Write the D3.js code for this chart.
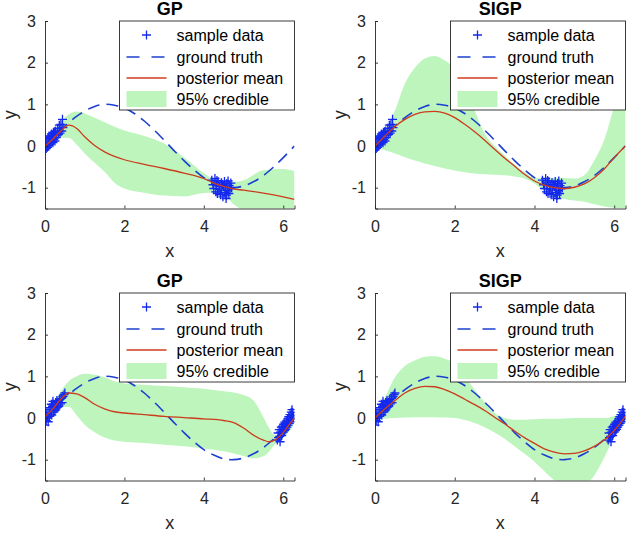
<!DOCTYPE html>
<html><head><meta charset="utf-8">
<script src="https://cdn.jsdelivr.net/npm/d3@7"></script>
<style>body{margin:0;background:#fff}svg{display:block;font-family:"Liberation Sans",Arial,Helvetica,sans-serif}</style>
</head><body><svg id="c" width="640" height="533"></svg>
<script>
// ---------- data ----------
const titles = ["GP","SIGP","GP","SIGP"];
const legendLabels = ["sample data","ground truth","posterior mean","95% credible"];
const xTicks = [0,2,4,6];
const yTicks = [-1,0,1,2,3];

// ground truth
const truthX = [0,0.25,0.5,0.75,1,1.25,1.5,1.75,2,2.25,2.5,2.75,3,3.25,3.5,3.75,4,4.25,4.5,4.75,5,5.25,5.5,5.75,6,6.28];
const truthY = [0,0.25,0.48,0.68,0.84,0.95,1.00,0.98,0.91,0.78,0.60,0.38,0.14,-0.11,-0.35,-0.57,-0.76,-0.89,-0.98,-1.00,-0.96,-0.86,-0.71,-0.51,-0.28,0.00];

// sample data, top row
const sampleTopX = [0.00,0.02,0.03,0.05,0.06,0.08,0.09,0.10,0.12,0.13,0.14,0.16,0.17,0.18,0.20,0.21,0.22,0.24,0.25,0.27,0.28,0.30,0.32,0.34,0.36,0.38,0.40,0.42,0.44,0.45,
  4.20,4.23,4.25,4.28,4.30,4.32,4.34,4.36,4.38,4.40,4.42,4.44,4.45,4.47,4.48,4.50,4.52,4.53,4.55,4.56,4.58,4.60,4.61,4.63,4.64,4.66,4.68,4.70,4.33,4.57];
const sampleTopY = [-0.10,0.08,-0.06,0.14,-0.03,0.18,0.01,0.24,0.04,0.21,0.07,0.29,0.10,0.26,0.08,0.32,0.16,0.34,0.12,0.36,0.20,0.26,0.42,0.28,0.50,0.31,0.52,0.36,0.64,0.44,
  -0.82,-0.93,-1.02,-0.78,-1.10,-0.95,-1.14,-0.86,-1.03,-0.97,-1.17,-0.88,-1.06,-0.92,-1.22,-0.98,-0.85,-1.12,-1.00,-1.26,-0.90,-1.07,-0.84,-1.14,-0.95,-1.03,-0.89,-1.00,-0.83,-1.18];
// sample data, bottom row
const sampleBotX = [0.00,0.02,0.03,0.05,0.06,0.08,0.10,0.11,0.13,0.14,0.16,0.17,0.19,0.20,0.22,0.23,0.25,0.27,0.28,0.30,0.32,0.33,0.35,0.37,0.39,0.41,0.43,0.45,0.48,0.50,
  5.85,5.87,5.88,5.90,5.91,5.93,5.95,5.96,5.98,6.00,6.01,6.03,6.04,6.06,6.08,6.09,6.11,6.12,6.14,6.15,6.17,6.18,6.20,6.21,6.22,6.23,6.24,6.25,5.92,6.05];
const sampleBotY = [-0.17,0.10,-0.06,0.14,0.01,-0.09,0.20,0.04,0.25,0.09,0.33,0.07,0.27,0.40,0.14,0.30,0.18,0.37,0.22,0.42,0.26,0.38,0.29,0.45,0.34,0.47,0.37,0.52,0.56,0.60,
  -0.53,-0.36,-0.47,-0.28,-0.44,-0.34,-0.22,-0.42,-0.20,-0.34,-0.15,-0.30,-0.10,-0.27,-0.07,-0.22,-0.02,-0.17,0.03,-0.13,0.08,-0.09,0.14,-0.03,0.20,0.06,0.13,0.02,-0.57,-0.17];

// panel 1: GP (top)
const gp1X     = [0,0.2,0.4,0.6,0.8,1.0,1.25,1.5,1.75,2.0,2.5,3.0,3.5,4.0,4.25,4.5,4.75,5.0,5.5,6.0,6.28];
const gp1Mean  = [0.0,0.17,0.36,0.50,0.42,0.22,0.01,-0.14,-0.25,-0.33,-0.44,-0.54,-0.65,-0.78,-0.89,-0.97,-1.03,-1.06,-1.13,-1.22,-1.28];
const gp1Upper = [0.05,0.30,0.58,0.76,0.83,0.78,0.68,0.57,0.46,0.37,0.24,0.06,-0.27,-0.65,-0.80,-0.84,-0.86,-0.82,-0.58,-0.55,-0.60];
const gp1Lower = [-0.05,0.05,0.20,0.20,0.03,-0.18,-0.40,-0.62,-0.88,-1.02,-1.12,-1.19,-1.21,-1.13,-1.12,-1.17,-1.40,-1.55,-1.75,-1.90,-2.00];
// panel 2: SIGP (top)
const sigp1X     = [0,0.25,0.5,0.75,1.0,1.25,1.5,1.75,2.0,2.25,2.5,2.75,3.0,3.25,3.5,3.75,4.0,4.25,4.5,4.75,5.0,5.25,5.5,5.75,6.0,6.28];
const sigp1Mean  = [0.0,0.24,0.47,0.64,0.76,0.82,0.83,0.79,0.68,0.52,0.34,0.14,-0.08,-0.29,-0.48,-0.68,-0.84,-0.94,-1.00,-1.02,-0.99,-0.91,-0.76,-0.55,-0.28,0.0];
const sigp1Upper = [0.05,0.35,0.85,1.50,1.88,2.10,2.16,2.05,1.85,1.45,0.85,0.30,0.0,-0.22,-0.45,-0.63,-0.77,-0.78,-0.76,-0.77,-0.78,-0.70,-0.35,0.15,0.95,1.70];
const sigp1Lower = [-0.05,-0.10,-0.18,-0.27,-0.35,-0.42,-0.48,-0.54,-0.59,-0.63,-0.66,-0.68,-0.69,-0.70,-0.73,-0.78,-0.90,-1.10,-1.22,-1.27,-1.31,-1.34,-1.40,-1.45,-1.48,-1.50];
// panel 3: GP (bottom)
const gp2X     = [0,0.2,0.4,0.6,0.8,1.0,1.25,1.5,1.75,2.0,2.5,3.0,3.5,4.0,4.5,4.75,5.0,5.25,5.5,5.65,5.8,6.0,6.15,6.28];
const gp2Mean  = [0.03,0.22,0.45,0.60,0.58,0.49,0.33,0.22,0.15,0.12,0.08,0.04,0.01,-0.02,-0.06,-0.11,-0.24,-0.41,-0.53,-0.57,-0.52,-0.35,-0.16,0.0];
const gp2Upper = [0.10,0.35,0.65,0.88,1.00,1.06,1.04,0.98,0.88,0.83,0.80,0.77,0.74,0.70,0.64,0.61,0.55,0.42,0.02,-0.25,-0.42,-0.26,-0.05,0.10];
const gp2Lower = [-0.10,0.05,0.25,0.27,0.06,-0.16,-0.34,-0.47,-0.54,-0.57,-0.60,-0.64,-0.68,-0.73,-0.80,-0.85,-0.91,-0.97,-0.92,-0.80,-0.62,-0.48,-0.32,-0.12];
// panel 4: SIGP (bottom)
const sigp2X     = [0,0.25,0.5,0.75,1.0,1.25,1.5,1.75,2.0,2.25,2.5,2.75,3.0,3.25,3.5,3.75,4.0,4.25,4.5,4.75,5.0,5.25,5.5,5.75,6.0,6.28];
const sigp2Mean  = [0.0,0.22,0.42,0.60,0.71,0.76,0.75,0.68,0.58,0.45,0.32,0.18,0.02,-0.14,-0.31,-0.47,-0.61,-0.74,-0.82,-0.86,-0.85,-0.79,-0.68,-0.53,-0.30,0.04];
const sigp2Upper = [0.05,0.50,0.98,1.25,1.38,1.47,1.48,1.42,1.30,1.00,0.68,0.38,0.12,0.0,-0.04,-0.04,-0.03,-0.02,-0.02,-0.01,0.0,0.0,0.0,0.0,0.05,0.15];
const sigp2Lower = [-0.05,-0.02,0.0,0.01,0.02,0.02,0.02,0.01,0.0,-0.05,-0.12,-0.22,-0.35,-0.50,-0.68,-0.86,-1.05,-1.28,-1.50,-1.65,-1.70,-1.62,-1.38,-0.95,-0.47,-0.10];

// ---------- layout ----------
const panels = [
  {title:titles[0], left:45,  right:294.5, top:21,  bottom:208.5, sx:sampleTopX, sy:sampleTopY, bx:gp1X,   m:gp1Mean,   u:gp1Upper,   l:gp1Lower},
  {title:titles[1], left:375, right:625.5, top:21,  bottom:208.5, sx:sampleTopX, sy:sampleTopY, bx:sigp1X, m:sigp1Mean, u:sigp1Upper, l:sigp1Lower},
  {title:titles[2], left:45,  right:294.5, top:293, bottom:480.5, sx:sampleBotX, sy:sampleBotY, bx:gp2X,   m:gp2Mean,   u:gp2Upper,   l:gp2Lower},
  {title:titles[3], left:375, right:625.5, top:293, bottom:480.5, sx:sampleBotX, sy:sampleBotY, bx:sigp2X, m:sigp2Mean, u:sigp2Upper, l:sigp2Lower}
];

const C = {fill:"#bdf5bd", truth:"#1c3fd0", sample:"#1428ee", mean:"#cc3c1c", axis:"#262626"};
const svg = d3.select("#c");

panels.forEach((p,i)=>{
  const x = d3.scaleLinear().domain([0, 2*Math.PI]).range([p.left, p.right]);
  const y = d3.scaleLinear().domain([-1.5, 3]).range([p.bottom, p.top]);
  const g = svg.append("g");
  const clipId = "clip"+i;
  svg.append("clipPath").attr("id", clipId).append("rect")
    .attr("x", p.left).attr("y", p.top).attr("width", p.right-p.left).attr("height", p.bottom-p.top);
  const plot = g.append("g").attr("clip-path", `url(#${clipId})`);

  const band = p.bx.map((v,k)=>({x:v, u:p.u[k], l:p.l[k], m:p.m[k]}));
  plot.append("path").datum(band)
    .attr("d", d3.area().x(d=>x(d.x)).y0(d=>y(d.l)).y1(d=>y(d.u)).curve(d3.curveMonotoneX))
    .attr("fill", C.fill);

  const truth = truthX.map((v,k)=>({x:v, y:truthY[k]}));
  plot.append("path").datum(truth)
    .attr("d", d3.line().x(d=>x(d.x)).y(d=>y(d.y)).curve(d3.curveCatmullRom))
    .attr("fill","none").attr("stroke", C.truth).attr("stroke-width",1.6).attr("stroke-dasharray","12,7");

  const pts = p.sx.map((v,k)=>({x:v, y:p.sy[k]}));
  plot.append("g").selectAll("path").data(pts).join("path")
    .attr("d", d=>`M${x(d.x)-4.5},${y(d.y)}h9M${x(d.x)},${y(d.y)-4.5}v9`)
    .attr("stroke", C.sample).attr("stroke-width",1.3).attr("fill","none");

  plot.append("path").datum(band)
    .attr("d", d3.line().x(d=>x(d.x)).y(d=>y(d.m)).curve(d3.curveMonotoneX))
    .attr("fill","none").attr("stroke", C.mean).attr("stroke-width",1.3);

  // axes
  const xa = g.append("g").attr("transform",`translate(0,${p.bottom})`)
    .call(d3.axisBottom(x).tickValues(xTicks).tickSize(-3).tickPadding(12).tickFormat(d3.format("d")));
  const ya = g.append("g").attr("transform",`translate(${p.left},0)`)
    .call(d3.axisLeft(y).tickValues(yTicks).tickSize(-3).tickPadding(9).tickFormat(d3.format("d")));
  [xa,ya].forEach(a=>{
    a.select(".domain").attr("stroke",C.axis).attr("stroke-width",0.9);
    a.selectAll(".tick line").attr("stroke",C.axis).attr("stroke-width",0.9);
    a.selectAll(".tick text").attr("fill","#262626").attr("font-size",16).attr("font-family","Liberation Sans, Arial, sans-serif");
  });
  ya.selectAll(".tick text").text(d=> d<0 ? "-"+Math.abs(d) : d);

  // labels
  g.append("text").attr("x",(p.left+p.right)/2).attr("y",p.top-6).attr("text-anchor","middle")
    .attr("font-size",18).attr("font-weight","bold").attr("fill","#000").text(p.title);
  g.append("text").attr("x",(p.left+p.right)/2).attr("y",p.bottom+48).attr("text-anchor","middle")
    .attr("font-size",18).attr("fill","#262626").text("x");
  g.append("text").attr("transform",`translate(${p.left-29},${(p.top+p.bottom)/2}) rotate(-90)`)
    .attr("text-anchor","middle").attr("font-size",18).attr("fill","#262626").text("y");

  // legend
  const lw = 175, lh = 89;
  const lg = g.append("g").attr("transform",`translate(${p.right-lw},${p.top})`);
  lg.append("rect").attr("width",lw).attr("height",lh).attr("fill","#fff").attr("stroke",C.axis).attr("stroke-width",0.9);
  const rowY = [14, 36, 57, 78];
  const sx0 = 7, sx1 = 47;
  legendLabels.forEach((t,k)=>{
    lg.append("text").attr("x",57).attr("y",rowY[k]).attr("dy","0.35em").attr("font-size",16).attr("fill","#000").text(t);
  });
  const mx = (sx0+sx1)/2;
  lg.append("path").attr("d",`M${mx-4.5},${rowY[0]}h9M${mx},${rowY[0]-4.5}v9`).attr("stroke",C.sample).attr("stroke-width",1.3);
  lg.append("line").attr("x1",sx0).attr("x2",sx1).attr("y1",rowY[1]).attr("y2",rowY[1])
    .attr("stroke",C.truth).attr("stroke-width",1.6).attr("stroke-dasharray","13,12");
  lg.append("line").attr("x1",sx0).attr("x2",sx1).attr("y1",rowY[2]).attr("y2",rowY[2])
    .attr("stroke",C.mean).attr("stroke-width",1.3);
  lg.append("rect").attr("x",sx0).attr("y",rowY[3]-8).attr("width",sx1-sx0).attr("height",16).attr("fill",C.fill);
});
</script></body></html>
